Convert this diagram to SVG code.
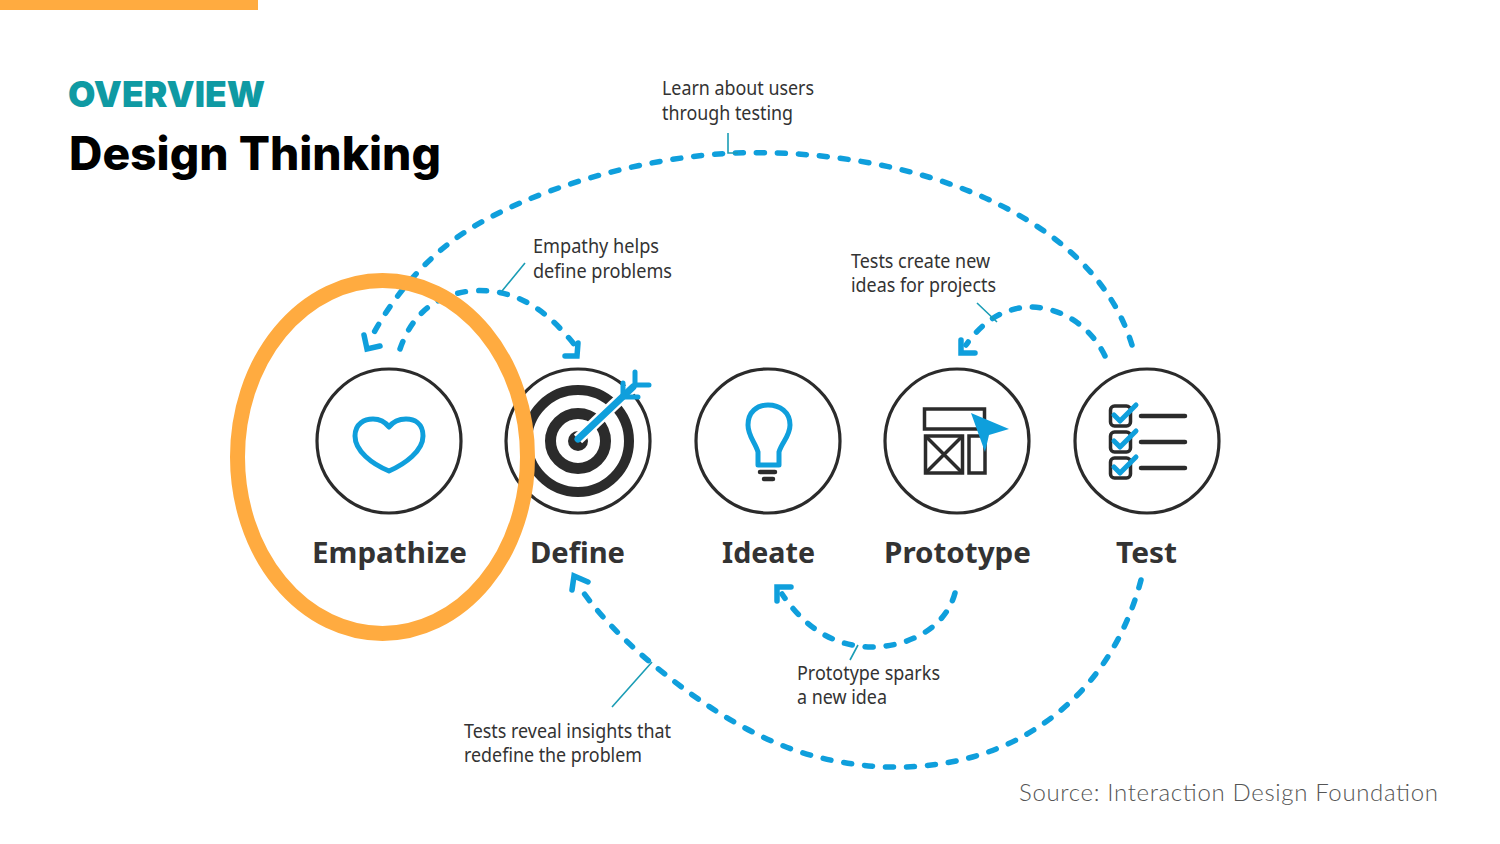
<svg xmlns="http://www.w3.org/2000/svg" width="1500" height="844" viewBox="0 0 1500 844">
<defs><style>
.ring{fill:#fff;stroke:#2b2b2b;stroke-width:3.2}
.dash{fill:none;stroke:#0f9fdc;stroke-width:5.5;stroke-linecap:round;stroke-dasharray:8 13}
.head{fill:none;stroke:#0f9fdc;stroke-width:5.5;stroke-linecap:round;stroke-linejoin:miter}
.lead{fill:none;stroke:#1b9db5;stroke-width:1.6}
.blue{fill:none;stroke:#0f9fdc;stroke-width:5;stroke-linejoin:round;stroke-linecap:round}
.dark{fill:none;stroke:#2b2b2b;stroke-width:3.5}
.bar{fill:none;stroke:#2b2b2b;stroke-width:4.5;stroke-linecap:round}
.note{font:400 19.5px "Noto Sans","Open Sans",sans-serif;fill:#333}
.name{font:700 29px "Noto Sans","Open Sans",sans-serif;fill:#333}
</style></defs>
<rect width="1500" height="844" fill="#fff"/>
<rect x="0" y="0" width="258" height="10" fill="#ffab40"/>
<text x="68" y="107" font-family="Inter,'Liberation Sans',sans-serif" font-weight="900" font-size="36" fill="#0f9aa3" textLength="197" lengthAdjust="spacingAndGlyphs">OVERVIEW</text>
<text x="69" y="170" font-family="Inter,'Liberation Sans',sans-serif" font-weight="800" font-size="46" fill="#000" textLength="372" lengthAdjust="spacingAndGlyphs">Design Thinking</text>

<g id="connectors">
<path class="dash" d="M1132 345C1112 280 1060 235 1000 205C920 165 820 150 735 153C640 157 530 190 465 232C425 258 392 298 371 338"/>
<path class="head" d="M364 335L367 349L380 346"/>
<path class="dash" d="M400 349C410 320 430 296 470 291C520 287 550 315 574 344"/>
<path class="head" d="M578 343L577 356L565 356"/>
<path class="dash" d="M1105 356C1090 325 1060 307 1030 307C1000 308 980 325 966 345"/>
<path class="head" d="M961 340L961 353L975 353"/>
<path class="dash" d="M955 593C945 630 905 648 868 647C830 645 803 625 782 594"/>
<path class="head" d="M777 601L777 587L791 587"/>
<path class="dash" d="M1141 580C1125 640 1090 700 1020 738C960 770 880 777 800 752C740 732 690 695 650 662C620 637 595 610 578 585"/>
<path class="head" d="M572 590L574 576L588 582"/>
<path class="lead" d="M525 263L502 291M728 133V153H738M977 303L997 322M858 645L850 660M652 662L612 707"/>
</g>

<g id="empathize"><circle class="ring" cx="389" cy="441" r="72"/>
<path class="blue" d="M389 471C372 464 355 451 355 436C355 423 365 419 373 419C381 419 386 423 389 427C392 423 398 419 406 419C414 419 423 423 423 436C423 451 405 464 389 471Z"/>
<text class="name" x="312" y="563" textLength="155" lengthAdjust="spacingAndGlyphs">Empathize</text></g>

<g id="define"><circle class="ring" cx="578" cy="441" r="72"/>
<circle cx="578" cy="441" r="51" fill="none" stroke="#2b2b2b" stroke-width="10"/>
<circle cx="578" cy="441" r="27.500" fill="none" stroke="#2b2b2b" stroke-width="11"/>
<circle cx="578" cy="441" r="10" fill="#2b2b2b"/>
<path d="M578 439L640 380" stroke="#fff" stroke-width="12" fill="none"/>
<path d="M578 439L633 387" stroke="#0f9fdc" stroke-width="7" stroke-linecap="round" fill="none"/>
<path class="blue" d="M623 383V397H638M635 372V385H649"/>
<text class="name" x="530" y="563" textLength="95" lengthAdjust="spacingAndGlyphs">Define</text></g>

<g id="ideate"><circle class="ring" cx="768" cy="441" r="72"/>
<path class="blue" d="M758 465V452C755 442 748 436 748 425C748 412 757 405 768 405C780 405 790 412 790 425C790 436 782 442 779 452V465Z"/>
<path class="bar" d="M760 472H775M764 479H773"/>
<text class="name" x="722" y="563" textLength="93" lengthAdjust="spacingAndGlyphs">Ideate</text></g>

<g id="prototype"><circle class="ring" cx="957" cy="441" r="72"/>
<rect class="dark" x="924.500" y="409" width="60" height="20"/>
<rect class="dark" x="925.500" y="436" width="37" height="37"/>
<path class="dark" d="M925.500 436L962.500 473M962.500 436L925.500 473"/>
<rect class="dark" x="969" y="436" width="16" height="37"/>
<path d="M971 413L1009 429L989 435L985 452Z" fill="#0f9fdc"/>
<text class="name" x="884" y="563" textLength="147" lengthAdjust="spacingAndGlyphs">Prototype</text></g>

<g id="test"><circle class="ring" cx="1147" cy="441" r="72"/>
<rect class="dark" x="1110.500" y="406" width="20" height="20" rx="4"/>
<rect class="dark" x="1110.500" y="432" width="20" height="20" rx="4"/>
<rect class="dark" x="1110.500" y="458" width="20" height="20" rx="4"/>
<path class="blue" d="M1114 415L1120 421L1136 405M1114 441L1120 447L1136 431M1114 467L1120 473L1136 457"/>
<path class="bar" d="M1141 416H1185M1141 442H1185M1141 468H1185"/>
<text class="name" x="1116" y="563" textLength="61" lengthAdjust="spacingAndGlyphs">Test</text></g>

<g id="labels">
<text class="note" x="662" y="95" textLength="152" lengthAdjust="spacingAndGlyphs">Learn about users</text>
<text class="note" x="662" y="120" textLength="131" lengthAdjust="spacingAndGlyphs">through testing</text>
<text class="note" x="533" y="253" textLength="126" lengthAdjust="spacingAndGlyphs">Empathy helps</text>
<text class="note" x="533" y="278" textLength="139" lengthAdjust="spacingAndGlyphs">define problems</text>
<text class="note" x="851" y="268" textLength="139" lengthAdjust="spacingAndGlyphs">Tests create new</text>
<text class="note" x="851" y="292" textLength="145" lengthAdjust="spacingAndGlyphs">ideas for projects</text>
<text class="note" x="797" y="680" textLength="143" lengthAdjust="spacingAndGlyphs">Prototype sparks</text>
<text class="note" x="797" y="704" textLength="90" lengthAdjust="spacingAndGlyphs">a new idea</text>
<text class="note" x="464" y="738" textLength="207" lengthAdjust="spacingAndGlyphs">Tests reveal insights that</text>
<text class="note" x="464" y="762" textLength="178" lengthAdjust="spacingAndGlyphs">redefine the problem</text>
</g>
<ellipse cx="382.500" cy="457" rx="145" ry="176.500" fill="none" stroke="#ffab40" stroke-width="15"/>
<text x="1019" y="801" font-family="Lato,'Open Sans',sans-serif" font-weight="300" font-size="24" fill="#555" textLength="419" lengthAdjust="spacing">Source: Interaction Design Foundation</text>
</svg>
